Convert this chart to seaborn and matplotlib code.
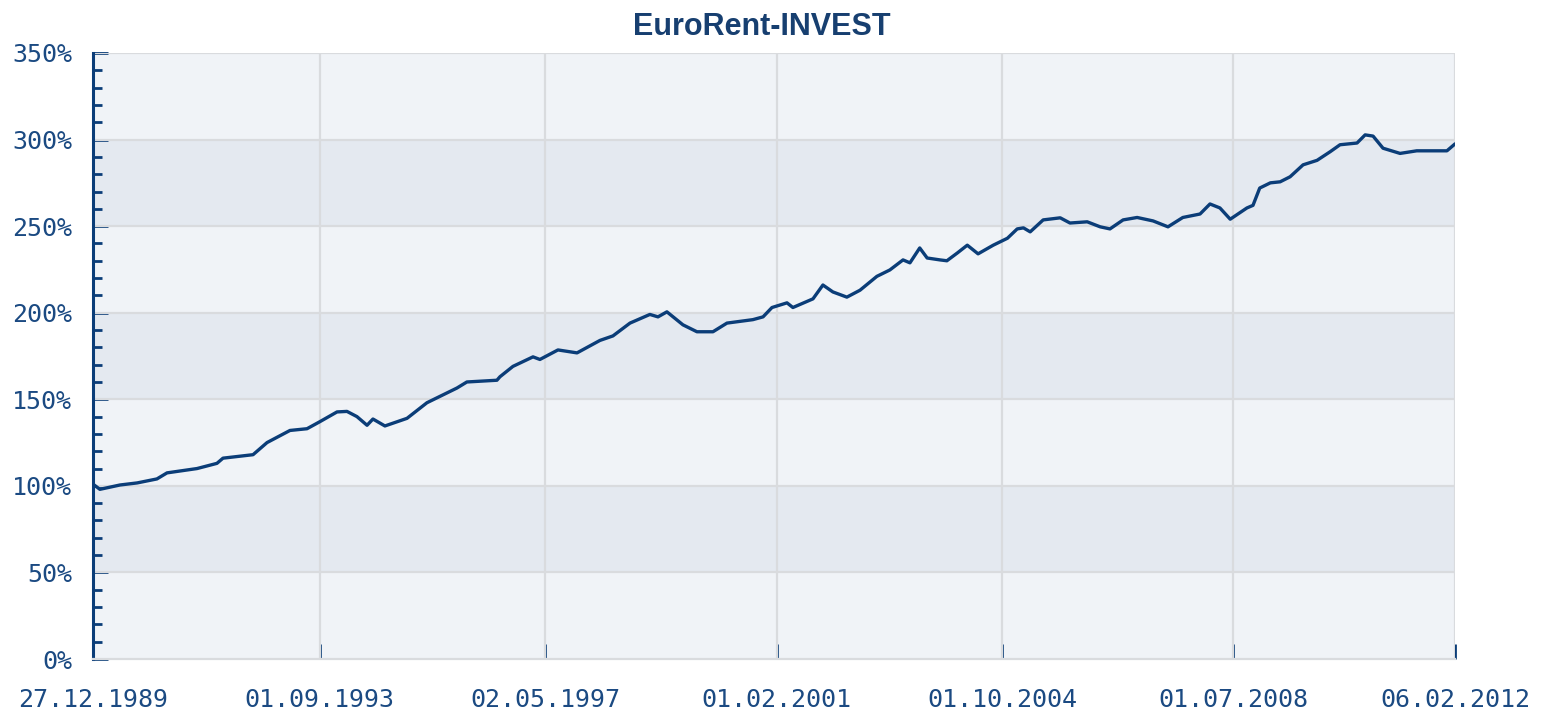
import pandas as pd
import matplotlib
matplotlib.use("Agg")
import matplotlib.pyplot as plt
from matplotlib.ticker import MultipleLocator, FuncFormatter
import seaborn as sns

# fund performance (start = 100%)
dates = [
    "1989-12-27", "1990-02-06", "1990-06-05", "1990-09-15", "1991-01-10", "1991-03-11",
    "1991-09-05", "1992-01-01", "1992-02-06", "1992-08-02", "1992-10-24", "1993-03-09",
    "1993-06-18", "1993-09-01", "1993-12-13", "1994-02-10", "1994-04-10", "1994-06-09",
    "1994-07-14", "1994-09-23", "1995-02-01", "1995-05-30", "1995-11-24", "1996-01-22",
    "1996-07-18", "1996-08-05", "1996-10-21", "1997-02-17", "1997-03-30", "1997-07-15",
    "1997-11-05", "1998-03-21", "1998-06-06", "1998-09-15", "1999-01-11", "1999-02-28",
    "1999-04-22", "1999-07-26", "1999-10-17", "2000-01-20", "2000-04-12", "2000-09-13",
    "2000-11-12", "2001-01-04", "2001-04-03", "2001-05-08", "2001-09-04", "2001-11-02",
    "2001-12-31", "2002-03-24", "2002-06-10", "2002-09-18", "2002-12-04", "2003-02-20",
    "2003-04-02", "2003-05-30", "2003-07-13", "2003-09-27", "2003-11-07", "2004-01-08",
    "2004-03-07", "2004-05-10", "2004-08-08", "2004-10-31", "2004-12-28", "2005-02-03",
    "2005-03-15", "2005-05-31", "2005-09-09", "2005-11-06", "2006-02-16", "2006-05-04",
    "2006-07-01", "2006-09-17", "2006-12-09", "2007-03-14", "2007-06-10", "2007-09-06",
    "2007-12-17", "2008-02-14", "2008-04-13", "2008-06-13", "2008-09-20", "2008-10-26",
    "2008-12-05", "2009-02-06", "2009-04-05", "2009-06-03", "2009-08-19", "2009-11-10",
    "2010-01-27", "2010-03-26", "2010-07-05", "2010-08-22", "2010-10-08", "2010-12-06",
    "2011-03-17", "2011-06-24", "2011-12-20", "2012-02-06",
]
values = [
    101, 98, 100.5, 101.7, 104, 107.5,
    110, 113, 116, 118, 125, 132,
    133, 137, 142.7, 143, 140, 135,
    138.6, 134.6, 139, 148, 156.5, 160,
    161, 163, 169, 174.5, 173, 178.5,
    176.8, 184, 186.6, 194, 199, 197.6,
    200.5, 193, 189, 189, 194, 196,
    197.6, 203, 205.7, 203, 208, 216,
    212, 209, 213, 221, 224.7, 230.5,
    228.8, 237.4, 231.6, 230.5, 230, 234.5,
    239, 234, 239, 243, 248.4, 249,
    246.7, 253.6, 254.8, 251.8, 252.5, 249.6,
    248.4, 253.6, 255, 253, 249.6, 255,
    257, 262.8, 260.5, 254, 260.5, 262,
    272, 275, 275.6, 278.5, 285.4, 288,
    293, 297, 298, 302.7, 302, 295,
    292, 293.5, 293.5, 297.5,
]
tick_dates = ["1989-12-27", "1993-09-01", "1997-05-02", "2001-02-01",
              "2004-10-01", "2008-07-01", "2012-02-06"]
title = "EuroRent-INVEST"

navy = "#0b3d78"
text_col = "#1b4a82"
light_band = "#f0f3f7"
dark_band = "#e4e9f0"
grid_col = "#d9dbde"

df = pd.DataFrame({"date": pd.to_datetime(dates), "value": values})
ticks = pd.to_datetime(tick_dates)

sns.set_style("white")
plt.rcParams["font.family"] = ["DejaVu Sans Mono"]

fig = plt.figure(figsize=(15.42, 7.15), dpi=100)
ax = fig.add_axes([0.0603, 0.0783, 0.8833, 0.8476])

# abwechselnde Bänder
for i, lo in enumerate(range(0, 350, 50)):
    ax.axhspan(lo, lo + 50, color=dark_band if i % 2 == 1 else light_band, zorder=0, lw=0)

for y in range(50, 351, 50):
    ax.axhline(y, color=grid_col, lw=1.6, zorder=1)
for t in ticks[1:]:
    ax.axvline(t, color=grid_col, lw=1.6, zorder=1)

sns.lineplot(data=df, x="date", y="value", ax=ax, color=navy, linewidth=2.4, zorder=3)

ax.set_xlim(ticks[0], ticks[-1])
ax.set_ylim(0, 350)
ax.set_xlabel("")
ax.set_ylabel("")

ax.yaxis.set_major_locator(MultipleLocator(50))
ax.yaxis.set_minor_locator(MultipleLocator(10))
ax.yaxis.set_major_formatter(FuncFormatter(lambda v, p: f"{int(v)}%"))
ax.set_xticks(ticks)
ax.set_xticklabels([t.strftime("%d.%m.%Y") for t in ticks])

ax.tick_params(axis="y", which="major", direction="in", length=11, width=2,
               color=navy, labelcolor=text_col, labelsize=18, pad=15, left=True)
ax.tick_params(axis="y", which="minor", direction="in", length=6.5, width=2,
               color=navy, left=True)
ax.tick_params(axis="x", which="major", direction="in", length=11, width=2,
               color=navy, labelcolor=text_col, labelsize=18, pad=21, bottom=True)

for s in ["top", "right"]:
    ax.spines[s].set_visible(False)
ax.spines["left"].set_color(navy)
ax.spines["left"].set_linewidth(2.2)
ax.spines["bottom"].set_color(grid_col)
ax.spines["bottom"].set_linewidth(1.6)

fig.text(0.494, 0.962, title, ha="center", va="center", fontsize=22,
         fontweight="bold", color="#173f70", family=["Liberation Sans", "DejaVu Sans"])

fig.savefig("out.png", dpi=100)
